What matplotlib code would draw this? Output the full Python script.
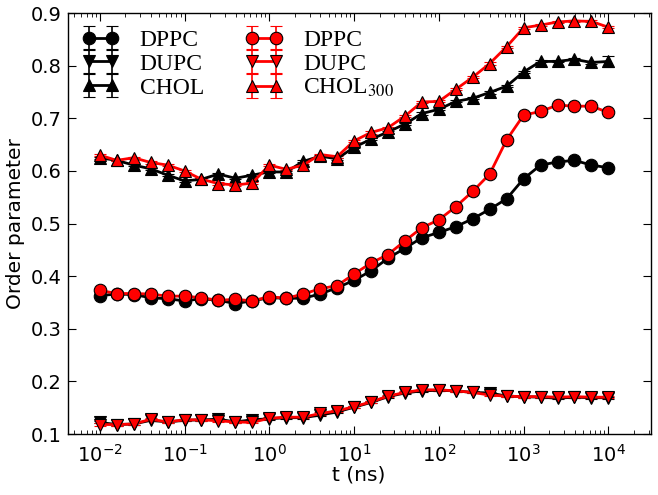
import numpy as np
import matplotlib
matplotlib.use("Agg")
import matplotlib.pyplot as plt

plt.rcParams['mathtext.fontset'] = 'stix'

# time points: 5 per decade from 1e-2 to 1e4 (ns)
t_exp = [-2 + 0.2 * k for k in range(31)]
t = [10 ** e for e in t_exp]

dppc_black = [0.363, 0.366, 0.365, 0.359, 0.357, 0.353, 0.357, 0.354, 0.348, 0.353,
              0.359, 0.358, 0.358, 0.366, 0.378, 0.392, 0.410, 0.434, 0.453, 0.473,
              0.483, 0.494, 0.509, 0.527, 0.547, 0.585, 0.611, 0.617, 0.620, 0.611, 0.606]
dupc_black = [0.122, 0.118, 0.119, 0.126, 0.123, 0.126, 0.127, 0.128, 0.123, 0.127,
              0.129, 0.131, 0.131, 0.136, 0.142, 0.151, 0.160, 0.171, 0.178, 0.182,
              0.183, 0.182, 0.179, 0.178, 0.172, 0.171, 0.170, 0.168, 0.170, 0.169, 0.169]
chol_black = [0.625, 0.620, 0.611, 0.604, 0.592, 0.581, 0.584, 0.594, 0.586, 0.592,
              0.598, 0.598, 0.618, 0.628, 0.623, 0.645, 0.660, 0.674, 0.689, 0.709,
              0.717, 0.732, 0.738, 0.749, 0.761, 0.788, 0.808, 0.808, 0.812, 0.806, 0.808]

dppc_red = [0.373, 0.367, 0.367, 0.366, 0.362, 0.362, 0.359, 0.354, 0.356, 0.353,
            0.361, 0.358, 0.366, 0.376, 0.382, 0.404, 0.425, 0.441, 0.467, 0.492,
            0.507, 0.532, 0.561, 0.594, 0.659, 0.706, 0.713, 0.725, 0.723, 0.723, 0.711]
dupc_red = [0.118, 0.118, 0.119, 0.128, 0.123, 0.127, 0.127, 0.125, 0.123, 0.122,
            0.130, 0.132, 0.132, 0.139, 0.144, 0.152, 0.161, 0.172, 0.179, 0.184,
            0.184, 0.182, 0.179, 0.174, 0.172, 0.171, 0.171, 0.170, 0.171, 0.170, 0.170]
chol_red = [0.630, 0.620, 0.625, 0.616, 0.611, 0.600, 0.584, 0.576, 0.573, 0.577,
            0.611, 0.603, 0.611, 0.631, 0.627, 0.657, 0.673, 0.682, 0.704, 0.731,
            0.732, 0.755, 0.778, 0.804, 0.836, 0.872, 0.877, 0.883, 0.885, 0.884, 0.873]

err_small = [0.002] * 31
err_chol_black = [0.002] * 30 + [0.010]

labels_black = ['DPPC', 'DUPC', 'CHOL']
labels_red = ['DPPC', 'DUPC', r'CHOL$_{300}$']

fig = plt.figure(figsize=(6.58, 4.95), dpi=100)
ax = fig.add_axes([0.1026, 0.1232, 0.8864, 0.8505])

ms = 9
kw = dict(lw=2, capsize=4, capthick=1.2, elinewidth=1.2, markersize=ms, markeredgewidth=0.8)

series = [
    (dppc_black, err_small, 'o', 'k', labels_black[0]),
    (dupc_black, err_small, 'v', 'k', labels_black[1]),
    (chol_black, err_chol_black, '^', 'k', labels_black[2]),
    (dppc_red, err_small, 'o', '#ff0000', labels_red[0]),
    (dupc_red, err_small, 'v', '#ff0000', labels_red[1]),
    (chol_red, err_small, '^', '#ff0000', labels_red[2]),
]
for y, e, m, c, lab in series:
    ax.errorbar(t, y, yerr=e, marker=m, color=c, ecolor=c, markerfacecolor=c,
                markeredgecolor='k', label=lab, **kw)

ax.set_xscale('log')
ax.set_xlim(10 ** -2.38, 10 ** 4.5)
ax.set_ylim(0.1, 0.9)
ax.set_yticks([0.1, 0.2, 0.3, 0.4, 0.5, 0.6, 0.7, 0.8, 0.9])
ax.set_yticklabels(['0.1', '0.2', '0.3', '0.4', '0.5', '0.6', '0.7', '0.8', '0.9'])
ax.set_xticks([1e-2, 1e-1, 1e0, 1e1, 1e2, 1e3, 1e4])
ax.tick_params(which='both', direction='in', top=True, right=True, labelsize=14)
ax.tick_params(which='major', length=6, width=0.8)
ax.tick_params(axis='y', which='major', pad=4)
ax.tick_params(axis='x', which='major', pad=7)
ax.tick_params(which='minor', length=3, width=0.6)
ax.set_xlabel('t (ns)', fontsize=14.5, labelpad=0)
ax.set_ylabel('Order parameter', fontsize=14.5, labelpad=4)
for s in ax.spines.values():
    s.set_linewidth(1.0)

leg = ax.legend(ncol=2, loc='upper left', frameon=False, numpoints=2,
                prop={'family': 'Liberation Serif', 'size': 17},
                handlelength=1.6, columnspacing=1.75, labelspacing=0.1,
                handletextpad=0.85, borderaxespad=0.2,
                bbox_to_anchor=(0.0, 0.995))

fig.savefig('out.png', dpi=100)
